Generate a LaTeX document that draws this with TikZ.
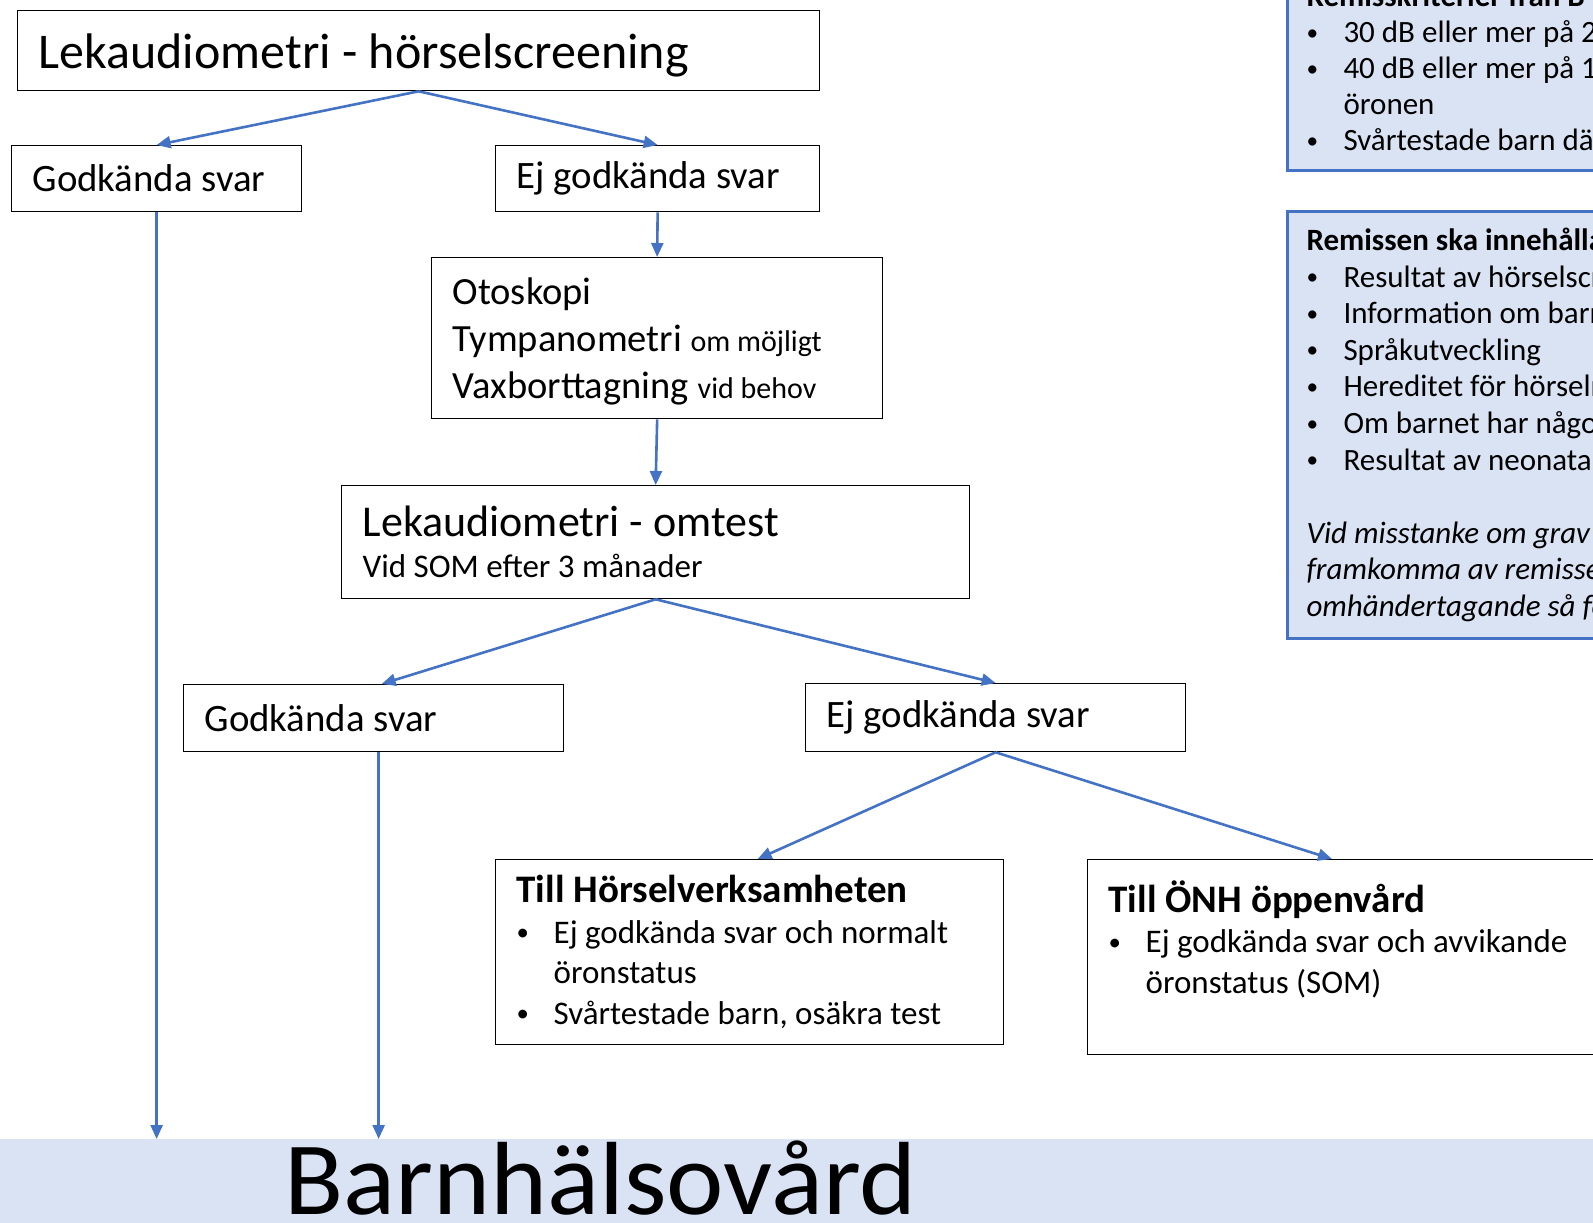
\documentclass[tikz,border=0pt]{standalone}
\usepackage{fontspec}
\usepackage{graphicx}
\setmainfont{Carlito}
\usetikzlibrary{arrows.meta}
\definecolor{linkblue}{HTML}{4472C4}
\definecolor{infofill}{HTML}{DAE3F3}
\newcommand{\fsz}[2]{\fontsize{#1}{#2}\selectfont}
\newcommand{\itm}[1]{\makebox[37pt][l]{\hspace*{0pt}\raisebox{0.08em}{\scalebox{0.75}{\textbullet}}}#1}
\tikzset{
  box/.style={draw, line width=1.3pt, anchor=north west, inner xsep=21pt, inner ysep=0pt, align=flush left},
  info/.style={draw=linkblue, fill=infofill, line width=3pt, anchor=north west, inner xsep=19pt, inner ysep=0pt, align=flush left},
  link/.style={linkblue, line width=2.6pt, -{Triangle[length=14pt,width=12pt]}},
}
\begin{document}
\begin{tikzpicture}[x=1pt,y=-1pt]
\useasboundingbox (0,0) rectangle (1593,1223);
% band at the bottom
\node[fill=infofill, anchor=north west, minimum width=1593pt, minimum height=90pt, inner sep=0pt] (bhv) at (0,1139) {};
\node[anchor=base west, inner sep=0pt, font=\fsz{104}{110}, xscale=1.045] (bhvname) at (284,1214) {Barnhälsovård};
% flow boxes
\node[box, minimum height=80pt, text width=760pt, text depth=0pt, font=\fsz{50}{60}] (screen) at (17,10) {Lekaudiometri - hörselscreening};
\node[box, minimum height=66pt, text width=248pt, font=\fsz{38.8}{46}] (god1) at (11,145) {Godkända svar};
\node[box, minimum height=66pt, text width=282pt, font=\fsz{38.8}{46}] (ej1) at (495,145) {Ej godkända svar};
\node[box, minimum height=161pt, text width=409pt, font=\fsz{38.5}{47}] (oto) at (431,257)
  {\rule{0pt}{33pt}Otoskopi\\Tympanometri {\fsz{30}{47}om möjligt}\\Vaxborttagning {\fsz{30}{47}vid behov}};
\node[box, minimum height=113pt, text width=586pt, font=\fsz{44}{41}] (omtest) at (341,485)
  {Lekaudiometri - omtest\\{\fsz{33}{41}Vid SOM efter 3 månader}};
\node[box, minimum height=67pt, text width=338pt, font=\fsz{38.8}{46}] (god2) at (183,684) {Godkända svar};
\node[box, minimum height=68pt, text width=338pt, font=\fsz{38.8}{46}] (ej2) at (805,683) {Ej godkända svar};
\node[box, minimum height=185pt, text width=466pt, font=\fsz{33}{40.5}] (hors) at (495,859)
  {{\bfseries\fsz{39}{40.5}Till Hörselverksamheten}\\\itm{Ej godkända svar och normalt}\\\hspace*{37pt}öronstatus\\\itm{Svårtestade barn, osäkra test}};
\node[box, minimum height=195pt, text width=518pt, font=\fsz{33}{40.5}] (onh) at (1087,859)
  {{\bfseries\fsz{39}{40.5}Till ÖNH öppenvård}\\\itm{Ej godkända svar och avvikande}\\\hspace*{37pt}öronstatus (SOM)\\\mbox{}};
% info boxes, cut at the right edge
\node[info, minimum height=206pt, text width=600pt, font=\fsz{31}{36}] (crit) at (1286,-37)
  {{\bfseries Remisskriterier från B}\\\itm{30 dB eller mer på 2}\\\itm{40 dB eller mer på 1}\\\hspace*{37pt}öronen\\\itm{Svårtestade barn där}};
\node[info, minimum height=427pt, text width=600pt, font=\fsz{31}{36.6}] (remiss) at (1286,210)
  {{\bfseries Remissen ska innehålla}\\\itm{Resultat av hörselscreening}\\\itm{Information om barnet}\\\itm{Språkutveckling}\\\itm{Hereditet för hörselnedsättning}\\\itm{Om barnet har något}\\\itm{Resultat av neonatal}\\\mbox{}\\{\itshape Vid misstanke om grav}\\{\itshape framkomma av remissen}\\{\itshape omhändertagande så för}};
% arrows
\draw[link] (screen.south) -- (god1.north);
\draw[link] (screen.south) -- (ej1.north);
\draw[link] (ej1.south) -- (oto.north);
\draw[link] (oto.south) -- (omtest.north);
\draw[link] (omtest.south) -- ([xshift=8pt]god2.north);
\draw[link] (omtest.south) -- (ej2.north);
\draw[link] (ej2.south) -- ([xshift=8pt]hors.north);
\draw[link] (ej2.south) -- ([xshift=245pt]onh.north west);
\draw[link] (god1.south) -- (god1.south |- bhv.north);
\draw[link] ([xshift=5pt]god2.south) -- ([xshift=5pt]god2.south |- bhv.north);
\end{tikzpicture}
\end{document}
